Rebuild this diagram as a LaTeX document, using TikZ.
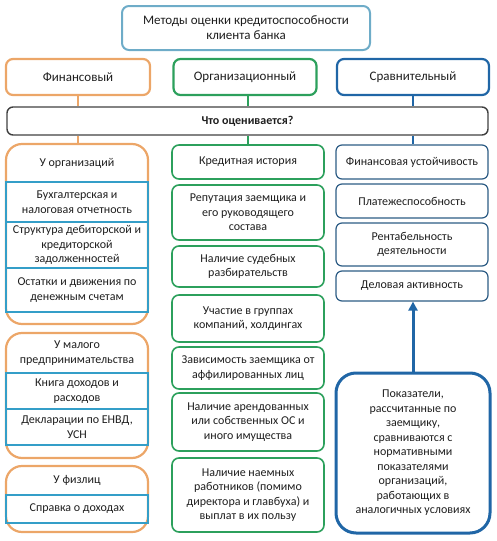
\documentclass[tikz,border=0pt]{standalone}
\usepackage{fontspec}
\setmainfont{Carlito}
\usetikzlibrary{arrows.meta}
\definecolor{topblue}{RGB}{110,172,200}
\definecolor{orng}{RGB}{236,166,104}
\definecolor{grn}{RGB}{44,160,92}
\definecolor{dblue}{RGB}{32,102,166}
\definecolor{lblue}{RGB}{52,158,200}
\definecolor{sblue}{RGB}{44,92,132}
\definecolor{txt}{RGB}{30,30,30}
\tikzset{
  base/.style={align=center,inner sep=2pt,text=txt,font=\fontsize{12}{14.5}\selectfont},
  head/.style={base,draw,line width=2.2pt,rounded corners=7pt,font=\fontsize{13}{15}\selectfont},
  cont/.style={draw=orng,line width=2.2pt,rounded corners=16pt,minimum width=142pt},
  inbox/.style={base,draw=lblue,line width=1.3pt,minimum width=142pt},
  gbox/.style={base,draw=grn,line width=1.6pt,rounded corners=7pt,minimum width=152pt},
  sbox/.style={base,draw=sblue,line width=1.2pt,rounded corners=6pt,minimum width=152pt},
  ttl/.style={base},
}
\begin{document}
\begin{tikzpicture}[x=1pt,y=-1pt]
\useasboundingbox (0,0) rectangle (496,541);
% headers
\node[head,draw=topblue,line width=2pt,minimum width=248pt,minimum height=44pt] (top) at (246,28) {Методы оценки кредитоспособности\\клиента банка};
\node[head,draw=orng,minimum width=144pt,minimum height=36pt] (fin) at (78,77) {Финансовый};
\node[head,draw=grn,minimum width=143pt,minimum height=36pt] (org) at (245,77) {Организационный};
\node[head,draw=dblue,minimum width=152pt,minimum height=36pt] (srv) at (413,77) {Сравнительный};
\node[base,draw=txt!85,line width=1.4pt,rounded corners=6pt,minimum width=481pt,minimum height=28pt,font=\bfseries\fontsize{12}{14}\selectfont] (chto) at (247.5,121) {Что оценивается?};
% left column
\node[cont,minimum height=180pt] (c1) at (77,234) {};
\node[ttl] (c1t) at (77,163) {У организаций};
\node[inbox,minimum height=40pt] (a1) at (77,202) {Бухгалтерская и\\налоговая отчетность};
\node[inbox,minimum height=46pt] (a2) at (77,245) {Структура дебиторской и\\кредиторской\\задолженностей};
\node[inbox,minimum height=44pt] (a3) at (77,290) {Остатки и движения по\\денежным счетам};
\node[cont,minimum height=125pt] (c2) at (77,395.5) {};
\node[ttl] (c2t) at (77,353) {У малого\\предпринимательства};
\node[inbox,minimum height=36pt] (b1) at (77,391) {Книга доходов и\\расходов};
\node[inbox,minimum height=36pt] (b2) at (77,427) {Декларации по ЕНВД,\\УСН};
\node[cont,minimum height=66pt] (c3) at (77,499) {};
\node[ttl] (c3t) at (77,480.5) {У физлиц};
\node[inbox,minimum height=28pt] (d1) at (77,509) {Справка о доходах};
% middle column
\node[gbox,minimum height=34pt] (m1) at (248,162) {Кредитная история};
\node[gbox,minimum height=55pt] (m2) at (248,212.5) {Репутация заемщика и\\его руководящего\\состава};
\node[gbox,minimum height=41pt] (m3) at (248,266.5) {Наличие судебных\\разбирательств};
\node[gbox,minimum height=47pt] (m4) at (248,318.5) {Участие в группах\\компаний, холдингах};
\node[gbox,minimum height=42pt] (m5) at (248,368) {Зависимость заемщика от\\аффилированных лиц};
\node[gbox,minimum height=58pt] (m6) at (248,422) {Наличие арендованных\\или собственных ОС и\\иного имущества};
\node[gbox,minimum height=74pt] (m7) at (248,495) {Наличие наемных\\работников (помимо\\директора и главбуха) и\\выплат в их пользу};
% right column
\node[sbox,minimum height=34pt] (r1) at (412,162) {Финансовая устойчивость};
\node[sbox,minimum height=34pt] (r2) at (412,201) {Платежеспособность};
\node[sbox,minimum height=43pt] (r3) at (412,244.5) {Рентабельность\\деятельности};
\node[sbox,minimum height=30pt] (r4) at (412,286) {Деловая активность};
\node[base,draw=dblue,line width=3pt,rounded corners=20pt,minimum width=154pt,minimum height=160pt] (big) at (413,453) {Показатели,\\рассчитанные по\\заемщику,\\сравниваются с\\нормативными\\показателями\\организаций,\\работающих в\\аналогичных условиях};
% connectors
\draw[orng,line width=2pt] (fin.south) -- (chto.north -| fin.south);
\draw[orng,line width=2pt] (chto.south -| fin.south) -- (c1.north -| fin.south);
\draw[grn,line width=2pt] (org.south -| m1.north) -- (chto.north -| m1.north);
\draw[grn,line width=2pt] (chto.south -| m1.north) -- (m1.north);
\draw[dblue,line width=2pt] (srv.south) -- (chto.north -| srv.south);
\draw[dblue,line width=2pt] (chto.south -| srv.south) -- (r1.north -| srv.south);
\draw[dblue,line width=3pt,-{Triangle[length=9pt,width=9pt]}] (big.north) -- (r4.south -| big.north);
\end{tikzpicture}
\end{document}
